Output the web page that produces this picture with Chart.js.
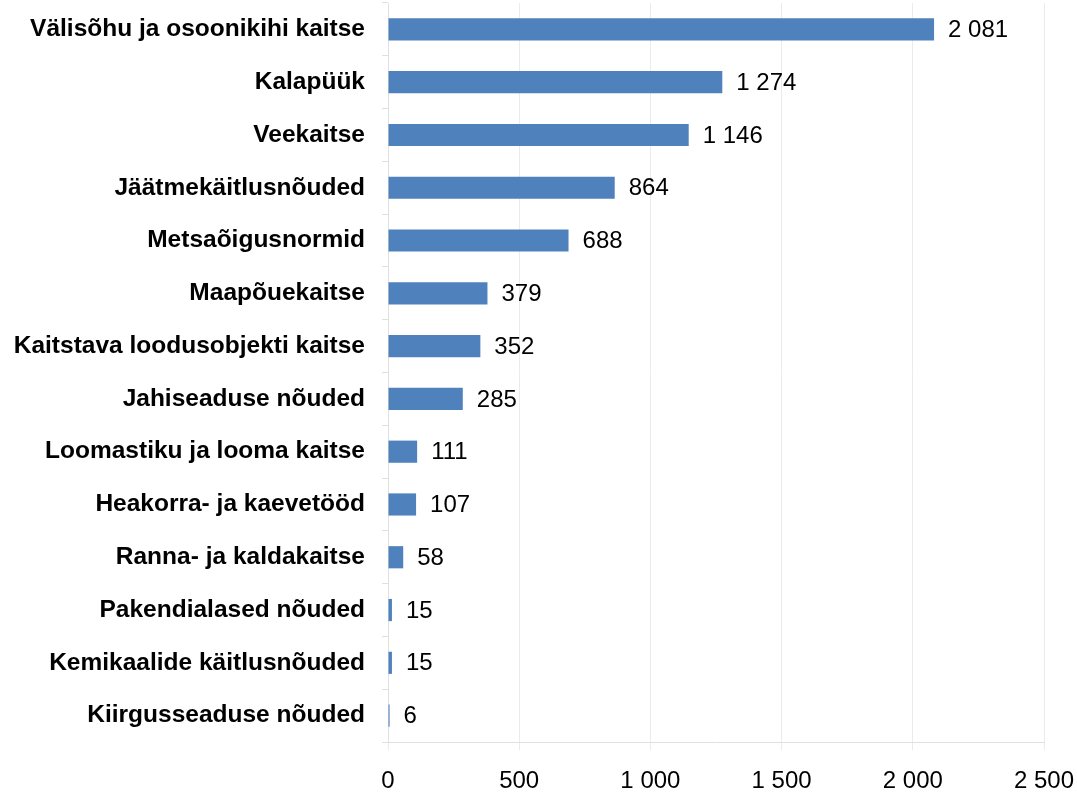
<!DOCTYPE html>
<html>
<head>
<meta charset="utf-8">
<script src="https://cdn.jsdelivr.net/npm/chart.js@4"></script>
<style>
  html, body { margin: 0; padding: 0; background: #fff; }
  #wrap { width: 1077px; height: 797px; position: relative; }
</style>
</head>
<body>
<div id="wrap"><canvas id="c" width="1077" height="797"></canvas></div>
<script>
// andmed
const categories = [
  "Välisõhu ja osoonikihi kaitse",
  "Kalapüük",
  "Veekaitse",
  "Jäätmekäitlusnõuded",
  "Metsaõigusnormid",
  "Maapõuekaitse",
  "Kaitstava loodusobjekti kaitse",
  "Jahiseaduse nõuded",
  "Loomastiku ja looma kaitse",
  "Heakorra- ja kaevetööd",
  "Ranna- ja kaldakaitse",
  "Pakendialased nõuded",
  "Kemikaalide käitlusnõuded",
  "Kiirgusseaduse nõuded"
];
const values = [2081, 1274, 1146, 864, 688, 379, 352, 285, 111, 107, 58, 15, 15, 6];
const xTicks = [0, 500, 1000, 1500, 2000, 2500];

const fmt = v => String(v).replace(/\B(?=(\d{3})+(?!\d))/g, " ");
const FONT = '"Liberation Sans", Arial, sans-serif';

// väärtused ribade otsa
const valueLabels = {
  id: "valueLabels",
  afterDatasetsDraw(chart) {
    const ctx = chart.ctx;
    const meta = chart.getDatasetMeta(0);
    ctx.save();
    ctx.font = "24px " + FONT;
    ctx.fillStyle = "#000";
    ctx.textBaseline = "middle";
    ctx.textAlign = "left";
    meta.data.forEach((bar, i) => {
      ctx.fillText(fmt(values[i]), bar.x + 14, bar.y + 1);
    });
    ctx.restore();
  }
};

// ilma automaatse lisaruumita
const noPad = s => {
  s.paddingTop = 0; s.paddingBottom = 0;
  s.paddingLeft = 0; s.paddingRight = 0;
};

new Chart(document.getElementById("c"), {
  type: "bar",
  data: {
    labels: categories,
    datasets: [{
      data: values,
      backgroundColor: "#4F81BD",
      borderWidth: 0,
      categoryPercentage: 1,
      barPercentage: 0.42
    }]
  },
  options: {
    indexAxis: "y",
    responsive: false,
    animation: false,
    layout: { autoPadding: false, padding: { top: 3, right: 33, left: 0, bottom: 0 } },
    plugins: { legend: { display: false }, tooltip: { enabled: false } },
    scales: {
      x: {
        min: 0, max: 2500,
        afterBuildTicks: s => { s.ticks = xTicks.map(v => ({ value: v })); },
        afterFit: s => { s.height = 55; noPad(s); },
        grid: { color: "#ebebeb", tickLength: 8, tickColor: "#ebebeb" },
        border: { color: "#e0e0e0" },
        ticks: {
          color: "#000",
          padding: 17,
          maxRotation: 0,
          font: { family: FONT, size: 24 },
          callback: v => fmt(v)
        }
      },
      y: {
        afterFit: s => { s.width = 388; noPad(s); },
        grid: { drawOnChartArea: false, offset: true, tickLength: 6, color: "#e0e0e0" },
        border: { color: "#e0e0e0" },
        ticks: {
          color: "#000",
          padding: 17,
          font: { family: FONT, size: 24.5, weight: "bold" }
        }
      }
    }
  },
  plugins: [valueLabels]
});
</script>
</body>
</html>
